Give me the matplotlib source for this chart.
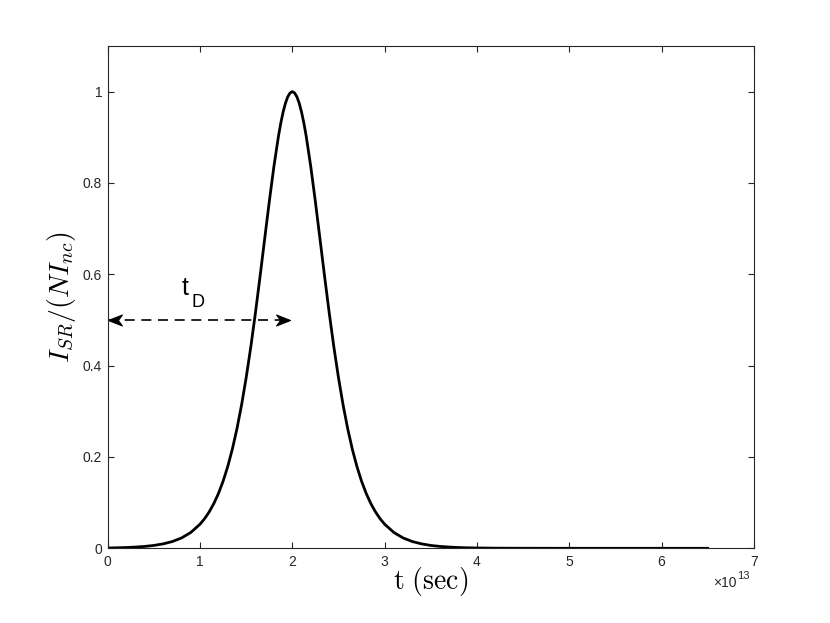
import matplotlib
matplotlib.use("Agg")
import matplotlib.pyplot as plt
from matplotlib.path import Path
from matplotlib.markers import MarkerStyle

plt.rcParams['font.family'] = ['Liberation Sans', 'DejaVu Sans']
plt.rcParams['mathtext.fontset'] = 'custom'
plt.rcParams['mathtext.rm'] = 'Liberation Sans'
plt.rcParams['mathtext.it'] = 'Liberation Sans:italic'

# time in units of 1e13 s, normalised intensity
t_1e13 = [0.0, 0.1, 0.2, 0.3, 0.4, 0.5, 0.6, 0.7, 0.8, 0.9, 1.0,
          1.05, 1.1, 1.15, 1.2, 1.25, 1.3, 1.35, 1.4, 1.45, 1.5,
          1.55, 1.6, 1.65, 1.7, 1.75, 1.8, 1.85, 1.875, 1.9, 1.925, 1.95, 1.975, 2.0,
          2.025, 2.05, 2.075, 2.1, 2.125, 2.15, 2.2, 2.25, 2.3, 2.35, 2.4, 2.45, 2.5,
          2.55, 2.6, 2.65, 2.7, 2.75, 2.8, 2.85, 2.9, 2.95, 3.0,
          3.1, 3.2, 3.3, 3.4, 3.5, 3.6, 3.7, 3.8, 3.9, 4.0,
          4.2, 4.5, 5.0, 5.5, 6.0, 6.5]
intensity = [0.0007, 0.0011, 0.0017, 0.0027, 0.0041, 0.0063, 0.0097, 0.0148, 0.0227, 0.0347, 0.0528,
             0.0650, 0.0800, 0.0982, 0.1203, 0.1470, 0.1790, 0.2170, 0.2618, 0.3139, 0.3737,
             0.4409, 0.5151, 0.5946, 0.6769, 0.7587, 0.8356, 0.9028, 0.9311, 0.9551, 0.9744, 0.9885, 0.9971, 1.0,
             0.9971, 0.9885, 0.9744, 0.9551, 0.9311, 0.9028, 0.8356, 0.7587, 0.6769, 0.5946, 0.5151, 0.4409, 0.3737,
             0.3139, 0.2618, 0.2170, 0.1790, 0.1470, 0.1203, 0.0982, 0.0800, 0.0650, 0.0528,
             0.0347, 0.0227, 0.0148, 0.0097, 0.0063, 0.0041, 0.0027, 0.0017, 0.0011, 0.0007,
             0.0003, 0.0001, 0.0, 0.0, 0.0, 0.0]

x_ticks = [0, 1, 2, 3, 4, 5, 6, 7]
x_tick_labels = ['0', '1', '2', '3', '4', '5', '6', '7']
y_ticks = [0, 0.2, 0.4, 0.6, 0.8, 1.0]
y_tick_labels = ['0', '0.2', '0.4', '0.6', '0.8', '1']

arrow_x = [0.0, 1.98]
arrow_y = [0.5, 0.5]

axc = (0.15, 0.15, 0.15)

fig = plt.figure(figsize=(8.3, 6.23), dpi=100)
ax = fig.add_axes([0.1298, 0.1199, 0.7784, 0.8063])

ax.plot(t_1e13, intensity, color='black', lw=2.0, solid_joinstyle='round')

# dashed double arrow
ax.plot(arrow_x, arrow_y, color='black', lw=1.2, dashes=(6, 4))
head_r = Path([(0, 0), (-1.4, 0.55), (-1.0, 0), (-1.4, -0.55), (0, 0)],
              [Path.MOVETO, Path.LINETO, Path.LINETO, Path.LINETO, Path.CLOSEPOLY])
head_l = Path([(0, 0), (1.4, 0.55), (1.0, 0), (1.4, -0.55), (0, 0)],
              [Path.MOVETO, Path.LINETO, Path.LINETO, Path.LINETO, Path.CLOSEPOLY])
ax.plot([arrow_x[1]], [arrow_y[1]], marker=MarkerStyle(head_r), markersize=20,
        color='black', markeredgewidth=0.8, linestyle='none', clip_on=False)
ax.plot([arrow_x[0]], [arrow_y[0]], marker=MarkerStyle(head_l), markersize=20,
        color='black', markeredgewidth=0.8, linestyle='none', clip_on=False)

ax.text(0.805, 0.5548, 't', fontsize=18, ha='left', va='baseline')
ax.text(0.905, 0.5285, 'D', fontsize=13, ha='left', va='baseline')

ax.set_xlim(0, 7)
ax.set_ylim(0, 1.1)
ax.set_xticks(x_ticks)
ax.set_xticklabels(x_tick_labels)
ax.set_yticks(y_ticks)
ax.set_yticklabels(y_tick_labels)

ax.tick_params(axis='both', direction='in', length=4.5, width=0.8, color=axc,
               labelcolor=axc, labelsize=10, top=True, right=True)
ax.tick_params(axis='x', pad=5)
ax.tick_params(axis='y', pad=4)
for s in ax.spines.values():
    s.set_color(axc)
    s.set_linewidth(0.8)

ax.set_xlabel(r'$\mathrm{t\ (sec)}$', fontsize=20, math_fontfamily='cm')
ax.xaxis.set_label_coords(0.5, -0.033)
ax.set_ylabel(r'$I_{SR}/(NI_{nc})$', fontsize=20, math_fontfamily='cm')
ax.yaxis.set_label_coords(-0.072, 0.5)
ax.yaxis.label.set_va('center')

ax.text(0.9737, -0.077, '×10', transform=ax.transAxes,
        ha='right', va='baseline', fontsize=10, color=axc)
ax.text(0.9737, -0.062, '13', transform=ax.transAxes,
        ha='left', va='baseline', fontsize=8, color=axc)

fig.savefig('out.png', dpi=100)
